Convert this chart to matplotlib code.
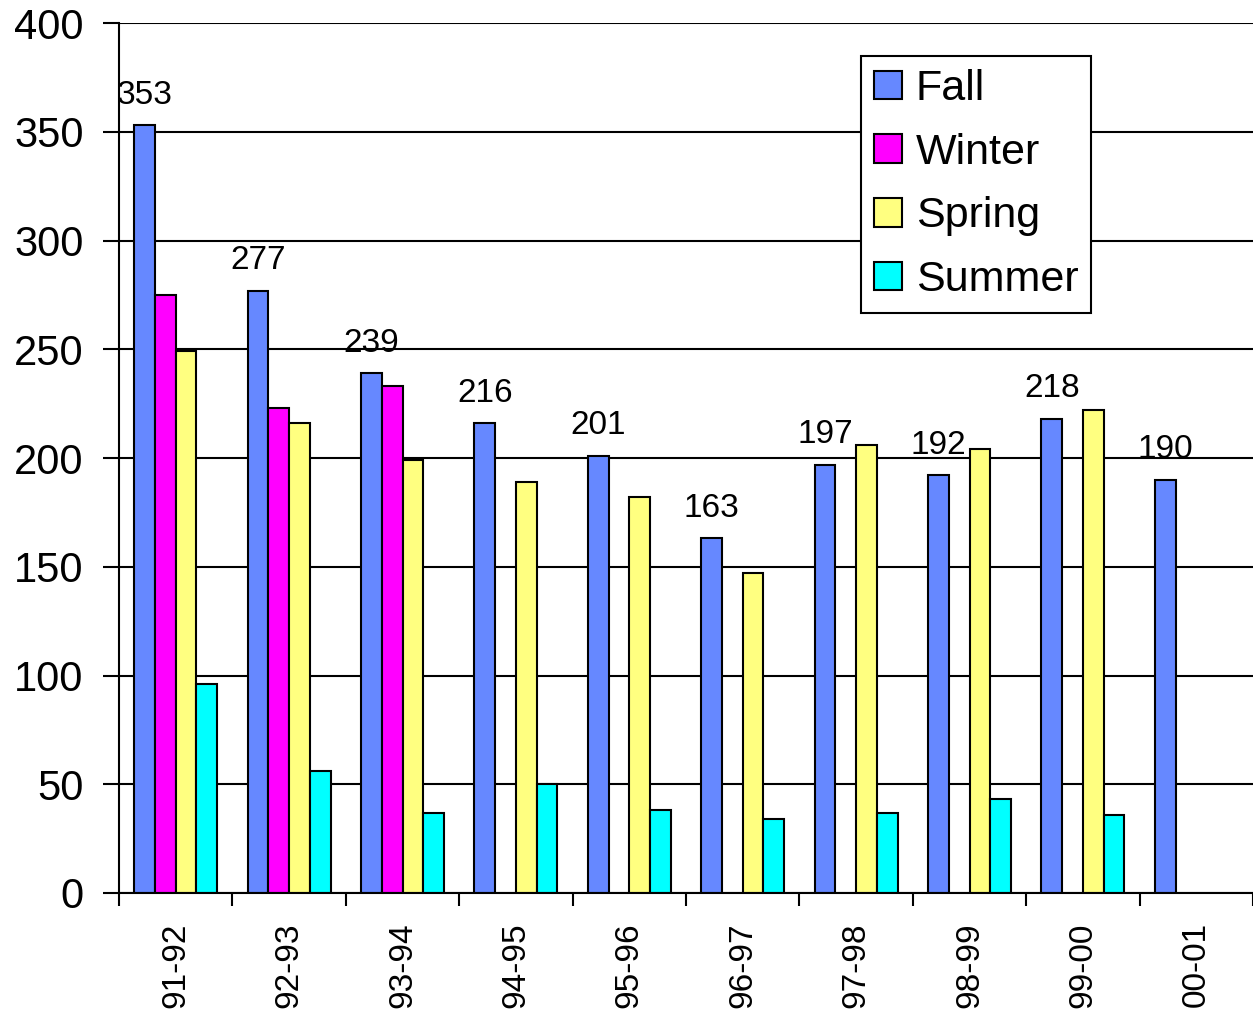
import numpy as np
import matplotlib
matplotlib.use("Agg")
import matplotlib.pyplot as plt

plt.rcParams['font.family'] = ['Liberation Sans', 'DejaVu Sans']

#chart data
years = ['91-92', '92-93', '93-94', '94-95', '95-96', '96-97', '97-98', '98-99', '99-00', '00-01']
fall = [353, 277, 239, 216, 201, 163, 197, 192, 218, 190]
winter = [275, 223, 233, 0, 0, 0, 0, 0, 0, 0]
spring = [249, 216, 199, 189, 182, 147, 206, 204, 222, 0]
summer = [96, 56, 37, 50, 38, 34, 37, 43, 36, 0]

series = [('Fall', fall, '#6688ff'), ('Winter', winter, '#ff00ff'),
          ('Spring', spring, '#ffff80'), ('Summer', summer, '#00ffff')]

fig = plt.figure(figsize=(12.53, 10.15), dpi=100)
ax = fig.add_axes([0.095, 0.1202, 0.905, 0.8571])

x = np.arange(len(years))
w = 0.183
for i, (name, vals, col) in enumerate(series):
    vals = np.array(vals, dtype=float)
    mask = vals > 0
    ax.bar(x[mask] + (i - 1.5) * w, vals[mask], w, color=col, edgecolor='black',
           linewidth=1.5, label=name, zorder=2)

#labels above fall bars
for xi, v in zip(x, fall):
    ax.annotate(str(v), (xi - 1.5 * w, v), xytext=(0, 10.5), textcoords='offset points',
                ha='center', va='bottom', fontsize=24, zorder=1)

ax.set_xlim(-0.5, len(years) - 0.5)
ax.set_ylim(0, 400)
ax.set_yticks(range(0, 401, 50))
ax.grid(axis='y', color='black', linewidth=1.5, zorder=0)
ax.set_axisbelow(True)
ax.tick_params(axis='y', length=11.5, width=1.5, labelsize=30, pad=14)

ax.set_xticks(x)
ax.set_xticklabels(years, rotation=90, fontsize=24)
ax.tick_params(axis='x', which='major', length=0, pad=21)
ax.set_xticks(np.arange(-0.5, len(years)), minor=True)
ax.tick_params(axis='x', which='minor', length=9, width=1.5)

for s in ['top', 'right']:
    ax.spines[s].set_visible(False)
ax.spines['left'].set_linewidth(1.5)
ax.spines['bottom'].set_linewidth(1.5)

leg = ax.legend(loc='upper left', bbox_to_anchor=(0.654, 0.962), borderaxespad=0,
                fontsize=31, fancybox=False, framealpha=1, edgecolor='black',
                handlelength=0.65, handleheight=0.65, handletextpad=0.33,
                labelspacing=0.55, borderpad=0.3)
leg.get_frame().set_linewidth(1.5)

fig.savefig('out.png', dpi=100)
